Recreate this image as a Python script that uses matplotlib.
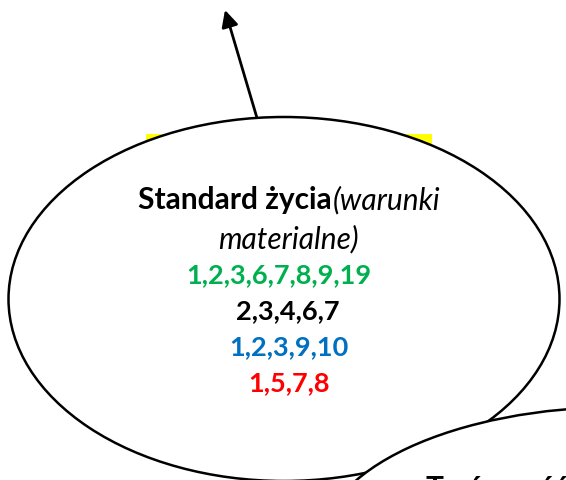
import matplotlib.pyplot as plt
from matplotlib.patches import Ellipse, Rectangle, FancyArrowPatch

# text content of the diagram
title_bold = "Standard życia"
title_italic = ["(warunki", "materialne)"]
number_lines = ["1,2,3,6,7,8,9,19", "2,3,4,6,7", "1,2,3,9,10", "1,5,7,8"]
number_colors = ["#00B050", "#000000", "#0070C0", "#FF0000"]
bottom_label = "Twórczość"

W, H = 566, 481
fig = plt.figure(figsize=(W / 100, H / 100), dpi=100)
ax = fig.add_axes([0, 0, 1, 1])
ax.set_xlim(0, W)
ax.set_ylim(H, 0)
ax.axis('off')

font = 'Lato'
fs_title = 21.5
fs_num = 19.5

# yellow box behind the big ellipse
ax.add_patch(Rectangle((146, 135), 286, 60, facecolor='#FFFF00', edgecolor='none', zorder=1))

# arrow going up out of the ellipse
arrow = FancyArrowPatch((257, 119), (225, 11), arrowstyle='-|>', mutation_scale=25,
                        color='black', lw=2, shrinkA=0, shrinkB=0, zorder=2)
ax.add_patch(arrow)

# big ellipse
ax.add_patch(Ellipse((284, 300), 551, 364, facecolor='white', edgecolor='black', lw=1.8, zorder=3))

# second ellipse, bottom right, on top
ax.add_patch(Ellipse((620, 548), 600, 280, facecolor='white', edgecolor='black', lw=1.8, zorder=4))

# first line: bold + italic, centred together
fig.canvas.draw()
r = fig.canvas.get_renderer()
t1 = ax.text(0, 200, title_bold, fontfamily=font, fontweight='bold', fontsize=fs_title,
             ha='left', va='center', zorder=5)
t2 = ax.text(0, 200, title_italic[0], fontfamily=font, fontstyle='italic', fontsize=fs_title,
             ha='left', va='center', zorder=5)
w1 = t1.get_window_extent(r).width
w2 = t2.get_window_extent(r).width
x0 = 289 - (w1 + w2) / 2
t1.set_x(x0)
t2.set_x(x0 + w1 + 1)

ax.text(288, 239, title_italic[1], fontfamily=font, fontstyle='italic', fontsize=fs_title,
        ha='center', va='center', zorder=5)

ys = [275, 311, 347, 383]
xs = [279, 288, 289, 289]
for txt, c, x, y in zip(number_lines, number_colors, xs, ys):
    ax.text(x, y, txt, color=c, fontfamily=font, fontweight='bold', fontsize=fs_num,
            ha='center', va='center', zorder=5)

# label of the second ellipse, mostly cut off by the bottom edge
ax.text(425, 498, bottom_label, fontfamily=font, fontweight='bold', fontsize=fs_title,
        ha='left', va='baseline', zorder=5)

fig.savefig('out.png', dpi=100)
